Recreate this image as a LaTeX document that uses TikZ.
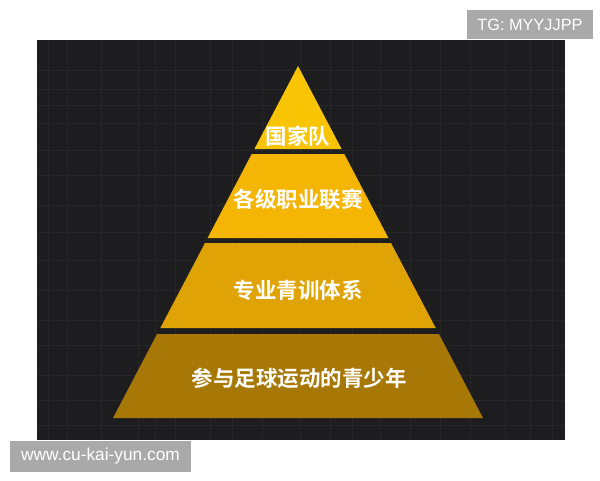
\documentclass[tikz,border=0pt]{standalone}
\usepackage{fontspec}
\setmainfont{Liberation Sans}
\newfontfamily\cjk{Noto Sans CJK SC Bold}
\definecolor{bgdark}{HTML}{1D1D1F}
\definecolor{gridc}{HTML}{272729}
\definecolor{bandA}{HTML}{F9C403}
\definecolor{bandB}{HTML}{F4B505}
\definecolor{bandC}{HTML}{DFA305}
\definecolor{bandD}{HTML}{A87806}
\definecolor{wmgray}{HTML}{A9A9A9}
\tikzset{
  band/.style={draw=none},
  lbl/.style={text=white, font=\cjk\fontsize{21.5}{23}\selectfont, inner sep=0pt},
  wmbox/.style={fill=wmgray, draw=none},
  wmtxt/.style={text=white, inner sep=0pt}
}
\begin{document}
\begin{tikzpicture}[x=1pt,y=-1pt]
\useasboundingbox (0,0) rectangle (600,480);
\fill[white] (0,0) rectangle (600,480);
% dark panel
\fill[bgdark] (37,40) rectangle (565,440);
\begin{scope}
\clip (37,40) rectangle (565,440);
\foreach \x in {48,67,101,138,155,175,210,232,262,300,330,352,380,410,440,470,505,530,552}
  \draw[gridc, line width=0.8pt] (\x,40) -- (\x,440);
\foreach \y in {70,89,105,123,150,175,205,232,260,290,320,345,375,400,425}
  \draw[gridc, line width=0.8pt] (37,\y) -- (565,\y);
\end{scope}
% pyramid bands
\fill[bandA] (298,66) -- (341.6,149) -- (254.4,149) -- cycle;
\fill[bandB] (251.7,154) -- (344.3,154) -- (388.4,238) -- (207.6,238) -- cycle;
\fill[bandC] (205,243) -- (391,243) -- (435.7,328) -- (160.3,328) -- cycle;
\fill[bandD] (157.1,334) -- (438.9,334) -- (483,418) -- (113,418) -- cycle;
% labels
\node[lbl] (l1) at (298,136) {国家队};
\node[lbl] (l2) at (298,199) {各级职业联赛};
\node[lbl] (l3) at (298,290) {专业青训体系};
\node[lbl] (l4) at (299,378) {参与足球运动的青少年};
% watermarks
\fill[wmbox] (467,10) rectangle (593,39);
\node[wmtxt, font=\fontsize{16.3}{18}\selectfont] (w1) at (530,24.5) {TG: MYYJJPP};
\fill[wmbox] (10,441) rectangle (191,472);
\node[wmtxt, font=\fontsize{17.3}{19}\selectfont] (w2) at (100.5,456.5) {www.cu-kai-yun.com};
\end{tikzpicture}
\end{document}
